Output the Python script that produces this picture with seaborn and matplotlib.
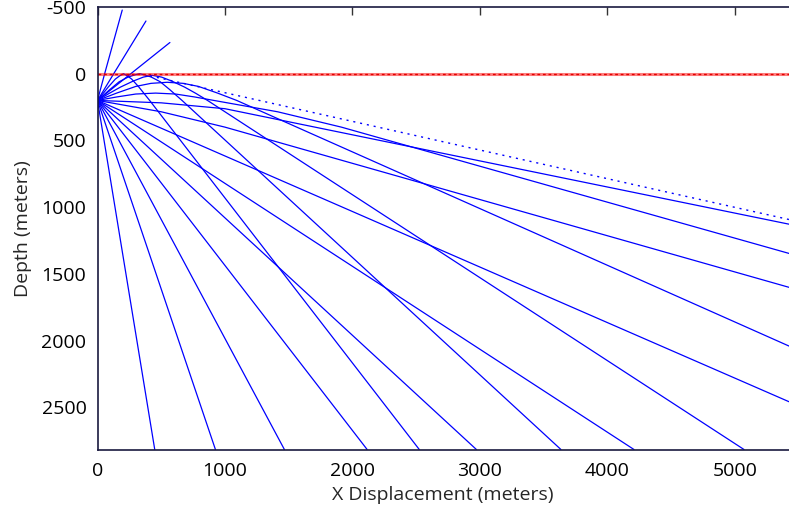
import matplotlib
matplotlib.use("Agg")
import matplotlib.pyplot as plt
import seaborn as sns
import pandas as pd

# ---------------- data (meters) ----------------
x_ticks = [0, 1000, 2000, 3000, 4000, 5000]
y_ticks = [-500, 0, 500, 1000, 1500, 2000, 2500]
x_max = 5424
y_top = -500
y_bottom = 2815

# direct downward rays
d10_x = [0, 449];   d10_z = [200, 2815]
d20_x = [0, 925];   d20_z = [200, 2815]
d30_x = [0, 1466];  d30_z = [200, 2815]
d40_x = [0, 2115];  d40_z = [200, 2815]
d50_x = [0, 2972];  d50_z = [200, 2815]
d60_x = [0, 4208];  d60_z = [200, 2815]
d70_x = [0, 5424];  d70_z = [200, 2457]
d80_x = [0, 500, 1000, 5424];  d80_z = [200, 285, 400, 1600]
d90_x = [0, 500, 1000, 5424];  d90_z = [200, 218, 262, 1127]

# upward rays transmitted into air
a10_x = [0, 56, 194];   a10_z = [200, 0, -477]
a20_x = [0, 127, 380];  a20_z = [200, 0, -395]
a30_x = [0, 261, 568];  a30_z = [200, 0, -234]

# upward rays reflected at the surface / turned back in the firn
u40_x = [0, 84, 140, 175, 204, 233, 268, 325, 409, 2524]
u40_z = [200, 100, 40, 15, 0, 15, 40, 100, 200, 2815]
u50_x = [0, 95, 170, 240, 295, 331, 367, 422, 492, 568, 663, 3635]
u50_z = [200, 120, 60, 25, 8, 0, 8, 25, 60, 120, 200, 2815]
u60_x = [0, 90, 180, 280, 360, 431, 502, 583, 683, 773, 863, 5071]
u60_z = [200, 148, 100, 55, 25, 12, 25, 55, 100, 148, 200, 2815]
u70_x = [0, 150, 300, 420, 546, 672, 792, 942, 1092, 5424]
u70_z = [200, 145, 95, 72, 64, 72, 95, 145, 200, 2040]
u80_x = [0, 150, 300, 456, 612, 762, 913, 1413, 1913, 5424]
u80_z = [200, 174, 152, 145, 152, 174, 200, 285, 400, 1346]

# shadow boundary (dotted)
shadow_x = [412, 5424]; shadow_z = [16, 1092]

# surface
surface_x = [0, 5424]; surface_z = [0, 0]

rays = {
    "d10": (d10_x, d10_z), "d20": (d20_x, d20_z), "d30": (d30_x, d30_z),
    "d40": (d40_x, d40_z), "d50": (d50_x, d50_z), "d60": (d60_x, d60_z),
    "d70": (d70_x, d70_z), "d80": (d80_x, d80_z), "d90": (d90_x, d90_z),
    "a10": (a10_x, a10_z), "a20": (a20_x, a20_z), "a30": (a30_x, a30_z),
    "u40": (u40_x, u40_z), "u50": (u50_x, u50_z), "u60": (u60_x, u60_z),
    "u70": (u70_x, u70_z), "u80": (u80_x, u80_z),
}

rows = []
for name, (xs, zs) in rays.items():
    for i, (xv, zv) in enumerate(zip(xs, zs)):
        rows.append({"ray": name, "order": i, "x": xv, "z": zv})
df = pd.DataFrame(rows)

# ---------------- plot ----------------
sns.set_theme(style="white")
plt.rcParams["font.family"] = ["Open Sans", "DejaVu Sans"]

fig = plt.figure(figsize=(7.89, 5.13), dpi=100)
ax = fig.add_axes([97.5 / 789, 1 - 449.5 / 513, 1 - 97.5 / 789, (449.5 - 7) / 513])

sns.lineplot(data=df, x="x", y="z", units="ray", estimator=None, sort=False,
             color="#0000ff", linewidth=0.9, ax=ax, legend=False)

sns.lineplot(x=surface_x, y=surface_z, color="#ff0000", alpha=0.5,
             linewidth=2.2, ax=ax, legend=False)
ax.plot(surface_x, surface_z, color="#e00000", linewidth=1.0,
        dashes=(2, 2))

ax.plot(shadow_x, shadow_z, color="#0000ff", linewidth=1.0, dashes=(1.5, 3.5))

ax.set_xlim(0, x_max)
ax.set_ylim(y_bottom, y_top)
ax.set_xticks(x_ticks)
ax.set_yticks(y_ticks)
ax.set_xticklabels([str(v) for v in x_ticks])
ax.set_yticklabels([str(v) for v in y_ticks])
ax.tick_params(direction="in", length=6, width=1, color="#333333",
               top=True, right=False, labelsize=14, colors="black")
ax.tick_params(axis="x", pad=9)
ax.tick_params(axis="y", pad=8)
for side in ["left", "bottom", "top"]:
    ax.spines[side].set_color("#1a1a40")
    ax.spines[side].set_linewidth(1.2)
ax.spines["right"].set_visible(False)

ax.set_xlabel("X Displacement (meters)", fontsize=14, labelpad=4)
ax.set_ylabel("Depth (meters)", fontsize=14, labelpad=7)

fig.savefig("out.png", dpi=100)
